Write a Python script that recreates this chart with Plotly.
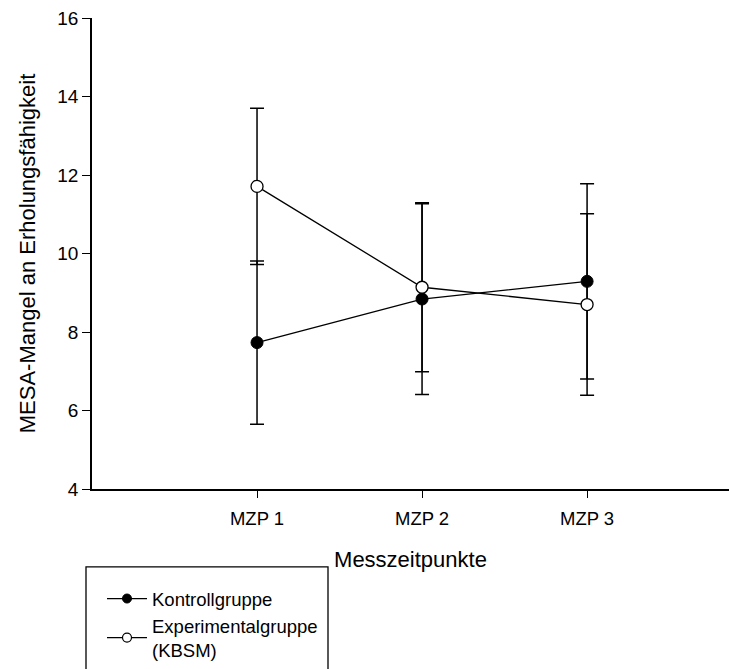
import plotly.graph_objects as go

# ---- data ----
categories = ["MZP 1", "MZP 2", "MZP 3"]
x_pos = [1, 2, 3]
kontroll_mean = [7.73, 8.84, 9.29]
kontroll_sd = [2.08, 2.43, 2.49]
experimental_mean = [11.71, 9.14, 8.70]
experimental_sd = [1.99, 2.15, 2.31]
y_ticks = [4, 6, 8, 10, 12, 14, 16]

FONT = "Liberation Sans, Arial, sans-serif"

W, H = 729, 669
ML, MR, MT, MB = 92, 0, 18, 179
PW = W - ML - MR
PH = H - MT - MB

def px_x(p):
    return (p - ML) / PW

def px_y(p):
    return (H - MB - p) / PH

fig = go.Figure()

fig.add_trace(go.Scatter(
    x=x_pos, y=kontroll_mean, mode="lines+markers", name="Kontrollgruppe",
    showlegend=False,
    line=dict(color="black", width=1.3),
    marker=dict(size=12, color="black", line=dict(color="black", width=1)),
    error_y=dict(type="data", array=kontroll_sd, visible=True,
                 color="black", thickness=1.5, width=7),
))
fig.add_trace(go.Scatter(
    x=x_pos, y=experimental_mean, mode="lines+markers", name="Experimentalgruppe (KBSM)",
    showlegend=False,
    line=dict(color="black", width=1.3),
    marker=dict(size=12, color="white", line=dict(color="black", width=1.3)),
    error_y=dict(type="data", array=experimental_sd, visible=True,
                 color="black", thickness=1.5, width=7),
))

# legend-only entries (smaller legend markers as in the reference)
fig.add_trace(go.Scatter(
    x=[None], y=[None], mode="lines+markers", name="Kontrollgruppe",
    line=dict(color="black", width=1.3),
    marker=dict(size=9, color="black", line=dict(color="black", width=1)),
))
fig.add_trace(go.Scatter(
    x=[None], y=[None], mode="lines+markers", name="Experimentalgruppe<br>(KBSM)",
    line=dict(color="black", width=1.3),
    marker=dict(size=9, color="white", line=dict(color="black", width=1.2)),
))

# legend frame (extends past the bottom edge, as in the reference)
fig.add_shape(type="rect", xref="paper", yref="paper",
              x0=px_x(86), x1=px_x(328), y0=px_y(568), y1=px_y(700),
              line=dict(color="black", width=1.3), fillcolor="rgba(0,0,0,0)")

fig.update_layout(
    width=W, height=H,
    margin=dict(l=ML, r=MR, t=MT, b=MB, pad=0),
    paper_bgcolor="white", plot_bgcolor="white",
    font=dict(family=FONT, color="black", size=18.5),
    xaxis=dict(
        range=[0, 3.86], tickvals=x_pos, ticktext=categories,
        showgrid=False, zeroline=False, showline=True, linecolor="black", linewidth=1.5,
        ticks="outside", ticklen=7, tickwidth=1.2, tickcolor="black",
        ticklabelstandoff=5,
        tickfont=dict(size=18.5, family=FONT),
        title=dict(text="Messzeitpunkte", font=dict(size=22, family=FONT), standoff=24),
    ),
    yaxis=dict(
        range=[4, 16], tickvals=y_ticks,
        showgrid=False, zeroline=False, showline=True, linecolor="black", linewidth=1.5,
        ticks="outside", ticklen=8, tickwidth=1.2, tickcolor="black",
        tickfont=dict(size=19, family=FONT),
        title=dict(text="MESA-Mangel an Erholungsfähigkeit", font=dict(size=22, family=FONT), standoff=16),
    ),
    legend=dict(
        x=px_x(102), y=px_y(581), xanchor="left", yanchor="top",
        bgcolor="rgba(0,0,0,0)", borderwidth=0, itemwidth=40,
        font=dict(size=18.5, family=FONT), tracegroupgap=0,
    ),
    showlegend=True,
)

fig.write_html("out.html")
